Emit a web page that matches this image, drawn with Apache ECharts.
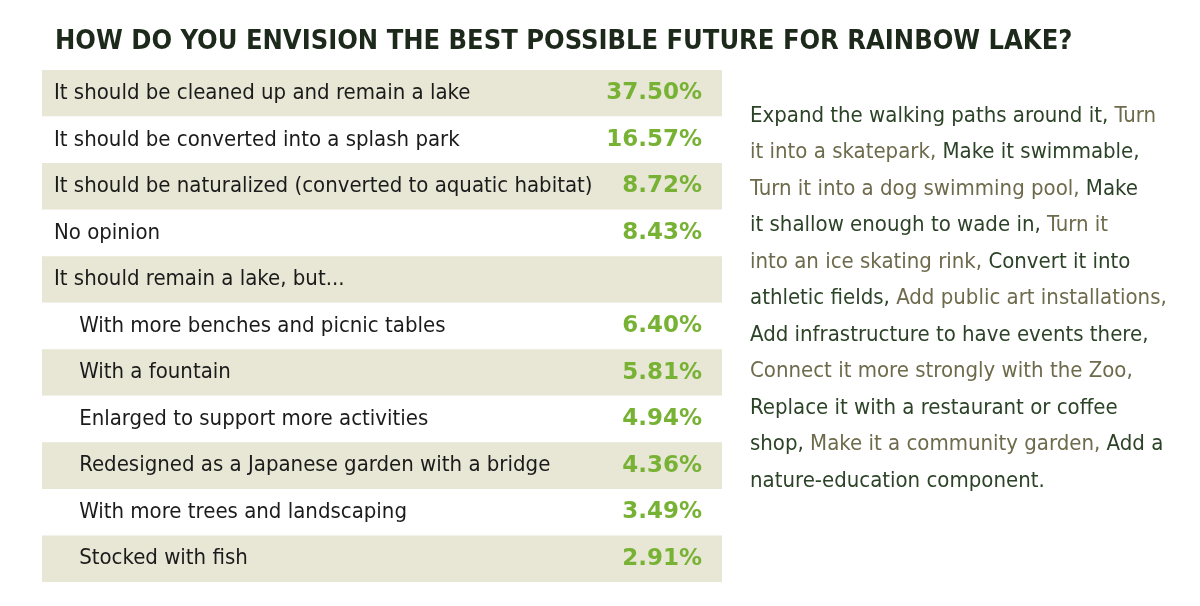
<!DOCTYPE html>
<html>
<head>
<meta charset="utf-8">
<script src="https://cdn.jsdelivr.net/npm/echarts@6/dist/echarts.min.js"></script>
<style>body{margin:0;background:#fff}#main{width:1200px;height:606px}</style>
</head>
<body>
<div id="main"></div>
<script>
// rows of the table
var answers = ['It should be cleaned up and remain a lake','It should be converted into a splash park',
    'It should be naturalized (converted to aquatic habitat)','No opinion','It should remain a lake, but...',
    '    With more benches and picnic tables','    With a fountain','    Enlarged to support more activities',
    '    Redesigned as a Japanese garden with a bridge','    With more trees and landscaping','    Stocked with fish'];
var shares = [37.50,16.57,8.72,8.43,null,6.40,5.81,4.94,4.36,3.49,2.91];
var shareLabels = shares.map(function(v){ return v == null ? '' : v.toFixed(2) + '%'; });
// other ideas, [text, dark?] per line
var otherLines = [
    [['Expand the walking paths around it, ','d'],['Turn','l']],
    [['it into a skatepark, ','l'],['Make it swimmable,','d']],
    [['Turn it into a dog swimming pool, ','l'],['Make','d']],
    [['it shallow enough to wade in, ','d'],['Turn it','l']],
    [['into an ice skating rink, ','l'],['Convert it into','d']],
    [['athletic fields, ','d'],['Add public art installations,','l']],
    [['Add infrastructure to have events there,','d']],
    [['Connect it more strongly with the Zoo,','l']],
    [['Replace it with a restaurant or coffee','d']],
    [['shop, ','d'],['Make it a community garden, ','l'],['Add a','d']],
    [['nature-education component.','d']]
];

var font = '"Liberation Sans Narrow","DejaVu Sans Condensed",sans-serif';
var myChart = echarts.init(document.getElementById('main'));
var graphics = [{
    type: 'text', left: 55, top: 28,
    style: {text: 'HOW DO YOU ENVISION THE BEST POSSIBLE FUTURE FOR RAINBOW LAKE?',
        font: 'bold 27px ' + font, fill: '#1d2a1b'}
}];
otherLines.forEach(function(line, i){
    var txt = line.map(function(p){ return '{' + p[1] + '|' + p[0] + '}'; }).join('');
    graphics.push({
        type: 'text', left: 750, top: 105 + i * 36.5,
        style: {text: txt, font: '22px ' + font,
            rich: {d: {fill: '#2c4328', font: '22px ' + font}, l: {fill: '#6e6a4c', font: '22px ' + font}}}
    });
});

option = {
    animation: false,
    grid: {left: 42, right: 478, top: 70, bottom: 24},
    xAxis: {type: 'value', show: false, min: 0, max: 100},
    yAxis: [
        {
            type: 'category', inverse: true, data: answers,
            axisLine: {show: false}, axisTick: {show: false},
            splitArea: {show: true, areaStyle: {color: ['#e8e6d5', '#ffffff']}},
            axisLabel: {inside: true, margin: 12, color: '#1b1b1b', fontSize: 22, fontFamily: font}
        },
        {
            type: 'category', inverse: true, position: 'right', data: shareLabels,
            axisLine: {show: false}, axisTick: {show: false},
            axisLabel: {inside: true, margin: 20, color: '#78b234', fontSize: 23, fontWeight: 'bold',
                fontFamily: '"Comic Sans MS","DejaVu Sans",sans-serif'}
        }
    ],
    series: [{
        type: 'bar', data: shares, silent: true,
        itemStyle: {color: 'rgba(0,0,0,0)'}
    }],
    graphic: graphics
};
myChart.setOption(option);
</script>
</body>
</html>
